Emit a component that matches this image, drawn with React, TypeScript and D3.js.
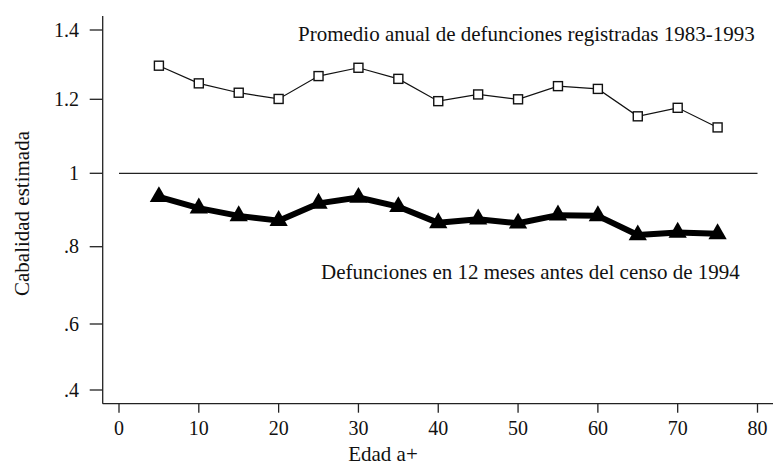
import React from "react";
import * as d3 from "d3";

const ages = [5, 10, 15, 20, 25, 30, 35, 40, 45, 50, 55, 60, 65, 70, 75];
const registradas = [1.297, 1.246, 1.219, 1.201, 1.267, 1.291, 1.259, 1.195, 1.214, 1.2, 1.238, 1.23, 1.154, 1.177, 1.124];
const censo = [0.936, 0.905, 0.884, 0.871, 0.918, 0.934, 0.909, 0.865, 0.875, 0.864, 0.886, 0.884, 0.832, 0.839, 0.835];
const xTicks = [0, 10, 20, 30, 40, 50, 60, 70, 80];
const yTicks = [0.4, 0.6, 0.8, 1, 1.2, 1.4];
const yTickLabels = [".4", ".6", ".8", "1", "1.2", "1.4"];
const refValue = 1;
const labelRegistradas = "Promedio anual de defunciones registradas 1983-1993";
const labelCenso = "Defunciones en 12 meses antes del censo de 1994";
const xTitle = "Edad a+";
const yTitle = "Cabalidad estimada";

const W = 773;
const H = 467;
const FONT = "'Liberation Serif', 'DejaVu Serif', serif";

export default function App() {
  const x = d3.scaleLinear().domain([0, 80]).range([119, 757.5]);
  // axis as printed in the reference (tick spacing is not uniform)
  const y = d3
    .scaleLinear()
    .domain(yTicks)
    .range([390, 324, 246.7, 173.3, 99.3, 30]);

  const axisX0 = 102.7;
  const axisY0 = 403.7;

  const thin = d3
    .line<number>()
    .x((_, i) => x(ages[i]))
    .y((d) => y(d))(registradas) as string;
  const thick = d3
    .line<number>()
    .x((_, i) => x(ages[i]))
    .y((d) => y(d))(censo) as string;
  const tri = d3.symbol().type(d3.symbolTriangle).size(145)() as string;

  return (
    <svg
      width={W}
      height={H}
      style={{ position: "absolute", left: 0, top: 0, background: "#fff" }}
      fontFamily={FONT}
    >
      <rect width={W} height={H} fill="#fff" />
      {/* axes */}
      <line x1={axisX0} x2={axisX0} y1={16} y2={axisY0} stroke="#222" strokeWidth={1.3} />
      <line x1={axisX0} x2={W} y1={axisY0} y2={axisY0} stroke="#222" strokeWidth={1.3} />
      {yTicks.map((t, i) => (
        <g key={"y" + t}>
          <line x1={axisX0 - 13} x2={axisX0} y1={y(t)} y2={y(t)} stroke="#222" strokeWidth={1.3} />
          <text x={79} y={y(t)} dy="0.33em" textAnchor="end" fontSize={20} fill="#111">
            {yTickLabels[i]}
          </text>
        </g>
      ))}
      {xTicks.map((t) => (
        <g key={"x" + t}>
          <line x1={x(t)} x2={x(t)} y1={axisY0} y2={axisY0 + 9} stroke="#222" strokeWidth={1.3} />
          <text x={x(t)} y={434.5} textAnchor="middle" fontSize={20} fill="#111">
            {t}
          </text>
        </g>
      ))}
      <text x={383} y={461} textAnchor="middle" fontSize={21} fill="#111">
        {xTitle}
      </text>
      <text
        transform={`translate(29,213.5) rotate(-90)`}
        textAnchor="middle"
        fontSize={21}
        fill="#111"
      >
        {yTitle}
      </text>

      {/* reference line */}
      <line x1={x(0)} x2={x(80)} y1={y(refValue)} y2={y(refValue)} stroke="#222" strokeWidth={1.3} />

      {/* registered deaths */}
      <path d={thin} fill="none" stroke="#111" strokeWidth={1.2} />
      {registradas.map((v, i) => (
        <rect
          key={"s" + i}
          x={x(ages[i]) - 4.5}
          y={y(v) - 4.5}
          width={9}
          height={9}
          fill="#fff"
          stroke="#111"
          strokeWidth={1.4}
        />
      ))}

      {/* census deaths */}
      <path d={thick} fill="none" stroke="#000" strokeWidth={6} strokeLinejoin="round" />
      {censo.map((v, i) => (
        <path key={"t" + i} d={tri} transform={`translate(${x(ages[i])},${y(v)})`} fill="#000" />
      ))}

      <text x={298} y={41} fontSize={21} fill="#111">
        {labelRegistradas}
      </text>
      <text x={321} y={279} fontSize={21} fill="#111">
        {labelCenso}
      </text>
    </svg>
  );
}
